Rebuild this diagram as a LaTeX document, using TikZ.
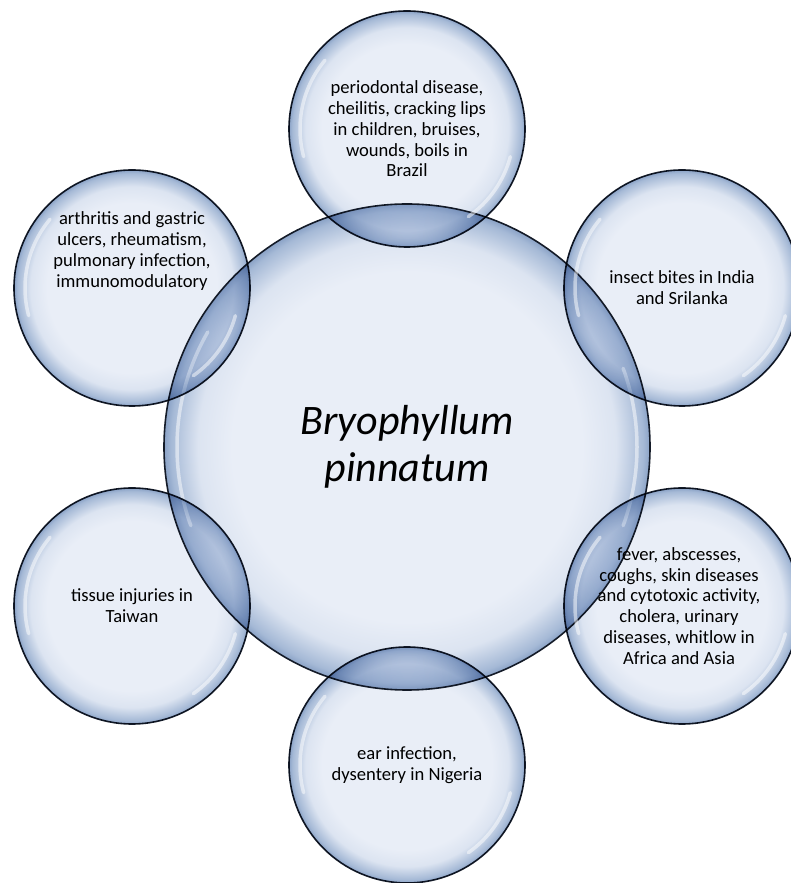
\documentclass[tikz,border=0pt]{standalone}
\usepackage{fontspec}
\setmainfont{Carlito}

\definecolor{bubin}{HTML}{E9EEF7}
\definecolor{bubmid}{HTML}{DCE4F1}
\definecolor{bubrim}{HTML}{A5B9D6}
\definecolor{bubdeep}{HTML}{8AA2C6}
\definecolor{bubline}{HTML}{141B28}
\pgfdeclareradialshading{bubshade}{\pgfpointorigin}{color(0bp)=(bubin); color(18bp)=(bubin); color(21.5bp)=(bubmid); color(24.3bp)=(bubrim); color(25bp)=(bubdeep); color(50bp)=(bubdeep)}

\tikzset{
  bubble/.style={circle, draw=bubline, line width=1.6pt, shade, shading=bubshade, inner sep=0pt},
  hub/.style={bubble, minimum size=486pt, align=center, font=\fontsize{42}{47}\selectfont\itshape},
  leaf/.style={bubble, minimum size=236pt},
  note/.style={align=center, font=\fontsize{18.6}{20.8}\selectfont},
  glare/.style={white, line width=3.5pt, line cap=round, opacity=0.5}
}

\begin{document}
\begin{tikzpicture}[x=1pt, y=1pt]
\useasboundingbox (0,0) rectangle (790,883);
% central plant
\node[hub] (bryo) at (407,436) {Bryophyllum\\pinnatum};
\draw[glare] (bryo.center) ++(150:230) arc[start angle=150, end angle=200, radius=230];
\draw[glare] (bryo.center) ++(-20:230) arc[start angle=-20, end angle=20, radius=230];
% uses around it
\begin{scope}[blend mode=multiply]
\node[leaf] (top) at (407,754) {};
\node[leaf] (ur)  at (682,595) {};
\node[leaf] (lr)  at (682,277) {};
\node[leaf] (bot) at (407,118) {};
\node[leaf] (ll)  at (132,277) {};
\node[leaf] (ul)  at (132,595) {};
\end{scope}
\foreach \n in {top,ur,lr,bot,ll,ul}{
  \draw[glare] (\n.center) ++(140:107) arc[start angle=140, end angle=195, radius=107];
  \draw[glare] (\n.center) ++(-55:107) arc[start angle=-55, end angle=-15, radius=107];
}
\node[note] (ttop) at (top.center) {periodontal disease,\\cheilitis, cracking lips\\in children, bruises,\\wounds, boils in\\Brazil};
\node[note] (tur) at (ur.center) {insect bites in India\\and Srilanka};
\node[note] (tlr) at ([xshift=-3pt]lr.center) {fever, abscesses,\\coughs, skin diseases\\and cytotoxic activity,\\cholera, urinary\\diseases, whitlow in\\Africa and Asia};
\node[note] (tbot) at (bot.center) {ear infection,\\dysentery in Nigeria};
\node[note] (tll) at (ll.center) {tissue injuries in\\Taiwan};
\node[note] (tul) at ([yshift=37pt]ul.center) {arthritis and gastric\\ulcers, rheumatism,\\pulmonary infection,\\immunomodulatory};
\end{tikzpicture}
\end{document}
